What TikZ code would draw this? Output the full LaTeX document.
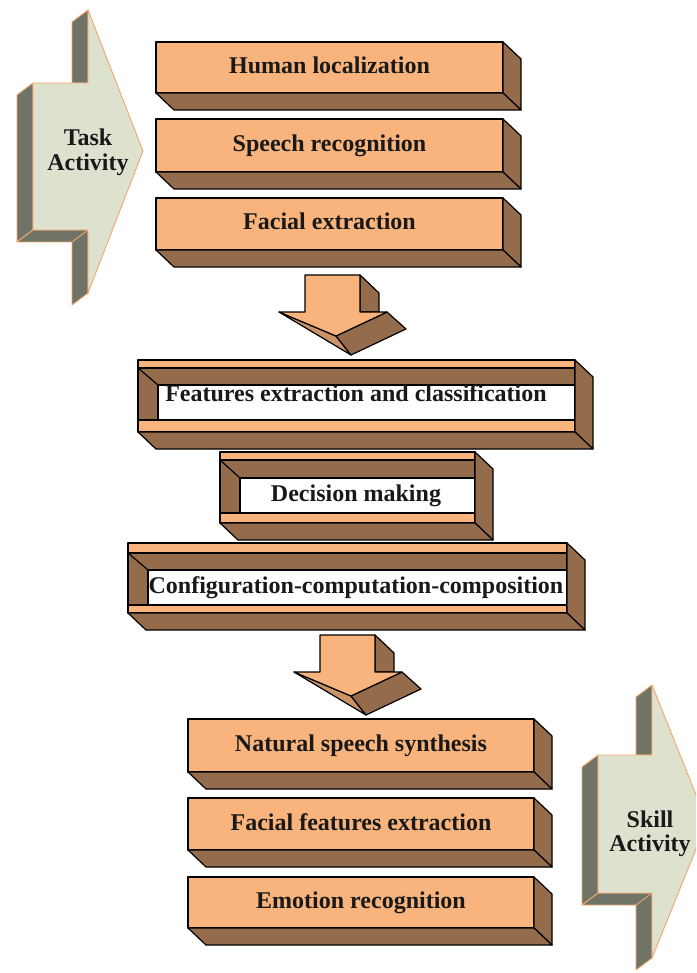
\documentclass[tikz,border=0pt]{standalone}
\usepackage{fontspec}
\setmainfont{Liberation Serif}
\usetikzlibrary{calc}

\definecolor{peach}{HTML}{F8B47C}
\definecolor{bark}{HTML}{946B4B}
\definecolor{sage}{HTML}{DDE2CF}
\definecolor{slate}{HTML}{6F7466}
\definecolor{rim}{HTML}{F2A66A}

\tikzset{
  face/.style={draw=black, line width=1.2pt, line join=round},
  front/.style={face, fill=peach},
  side/.style={face, fill=bark},
  sliver/.style={face, fill=peach!55!bark},
  label/.style={font=\bfseries\fontsize{24}{24}\selectfont, inner sep=0pt, text=black!90},
  stepbox/.style={front, rectangle, outer sep=0pt, label, text height=16pt, text depth=4pt},
  plate/.style={draw=rim, line width=0.9pt, line join=round, fill=sage},
  shade/.style={draw=rim, line width=0.9pt, line join=round, fill=slate},
}

% solid 3D slab: name, left, top, right, bottom, text
\newcommand\slab[6]{%
  \node[stepbox, minimum width={(#4)-(#2)}, minimum height={(#5)-(#3)}]
    (#1) at ({((#2)+(#4))/2},{((#3)+(#5))/2}) {#6};
  \draw[side] (#1.north east) -- ++(18,17) -- ($(#1.south east)+(18,17)$)
    -- (#1.south east) -- cycle;
  \draw[side] (#1.south west) -- (#1.south east) -- ++(18,17)
    -- ($(#1.south west)+(18,17)$) -- cycle;
}

% hollow 3D frame: left, top, right, bottom, inner wall x, strip y, band y, window bottom y
\newcommand\hollow[8]{%
  \fill[peach] (#1,#2) rectangle (#3,#4);
  \fill[white] (#5,#7) rectangle (#3,#8);
  \draw[side] (#1,#6) -- (#3,#6) -- (#3,#7) -- (#5,#7) -- (#5,#8) -- (#1,#8) -- cycle;
  \draw[face] (#1,#6) -- (#5,#7);
  \draw[face] (#1,#8) -- (#3,#8);
  \draw[face] (#1,#2) rectangle (#3,#4);
  \draw[side] (#3,#2) -- ++(18,17) -- ($(#3,#4)+(18,17)$) -- (#3,#4) -- cycle;
  \draw[side] (#1,#4) -- (#3,#4) -- ++(18,17) -- ($(#1,#4)+(18,17)$) -- cycle;
}

% tilted block arrow pointing down, shaft top-left corner at the shift
\newcommand\chute[1]{%
  \begin{scope}[shift={#1}]
    \draw[side] (55,0) -- (74,18) -- (74,37) -- (55,37) -- cycle;
    \draw[sliver] (-26,37) -- (31,61) -- (46,80) -- cycle;
    \draw[side] (31,61) -- (82,37) -- (101,54) -- (46,80) -- cycle;
    \draw[front] (0,0) -- (55,0) -- (55,37) -- (82,37) -- (31,61) -- (-26,37)
      -- (0,37) -- cycle;
  \end{scope}%
}

% 3D process arrow: body left, head back x, body top, body bottom,
% head top, head bottom, tip x, tip y
\newcommand\pointer[8]{%
  \draw[shade] (#1,#3) -- (#1,#4) -- ($(#1,#4)+(-16,12)$) -- ($(#1,#3)+(-16,12)$) -- cycle;
  \draw[shade] (#2,#5) -- (#2,#3) -- ($(#2,#3)+(-16,0)$) -- ($(#2,#5)+(-16,12)$) -- cycle;
  \draw[shade] (#1,#4) -- (#2,#4) -- (#2,#6) -- ($(#2,#6)+(-16,12)$)
    -- ($(#2,#4)+(-16,12)$) -- ($(#1,#4)+(-16,12)$) -- cycle;
  \draw[draw=rim, line width=0.9pt] (#2,#4) -- ($(#2,#4)+(-16,12)$);
  \draw[plate] (#1,#3) -- (#2,#3) -- (#2,#5) -- (#7,#8) -- (#2,#6) -- (#2,#4)
    -- (#1,#4) -- cycle;
}

\begin{document}
\begin{tikzpicture}[x=1pt, y=-1pt]
  \useasboundingbox (0,0) rectangle (696,973);
  \clip (0,0) rectangle (696,973);

  % incoming task activity
  \pointer{33}{88}{83}{230}{10}{293}{143}{151}
  \node[label, align=center, font=\bfseries\fontsize{24}{25}\selectfont]
    (task) at (88,152) {Task\\Activity};

  % perception stage
  \slab{loc}{156}{42}{503}{93}{Human localization}
  \slab{speech}{156}{119}{503}{172}{Speech recognition}
  \slab{face}{156}{198}{503}{250}{Facial extraction}

  \chute{(305,275)}

  % processing stage
  \hollow{138}{360}{575}{432}{158}{368}{385}{420}
  \node[label, anchor=base] (feat) at (356,401.5) {Features extraction and classification};
  \hollow{220}{452}{475}{523}{240}{460}{478}{513}
  \node[label, anchor=base] (dec) at (356,501.5) {Decision making};
  \hollow{128}{543}{567}{613}{148}{553}{570}{605}
  \node[label, anchor=base] (conf) at (356,593) {Configuration-computation-composition};

  \chute{(320,635)}

  % output stage
  \slab{synth}{188}{719}{534}{772}{Natural speech synthesis}
  \slab{ffe}{188}{798}{534}{850}{Facial features extraction}
  \slab{emo}{188}{877}{534}{928}{Emotion recognition}

  % outgoing skill activity
  \pointer{598}{652}{755}{893}{685}{958}{707}{822}
  \node[label, align=center, font=\bfseries\fontsize{24}{24}\selectfont]
    (skill) at (650,834) {Skill\\Activity};
\end{tikzpicture}
\end{document}
